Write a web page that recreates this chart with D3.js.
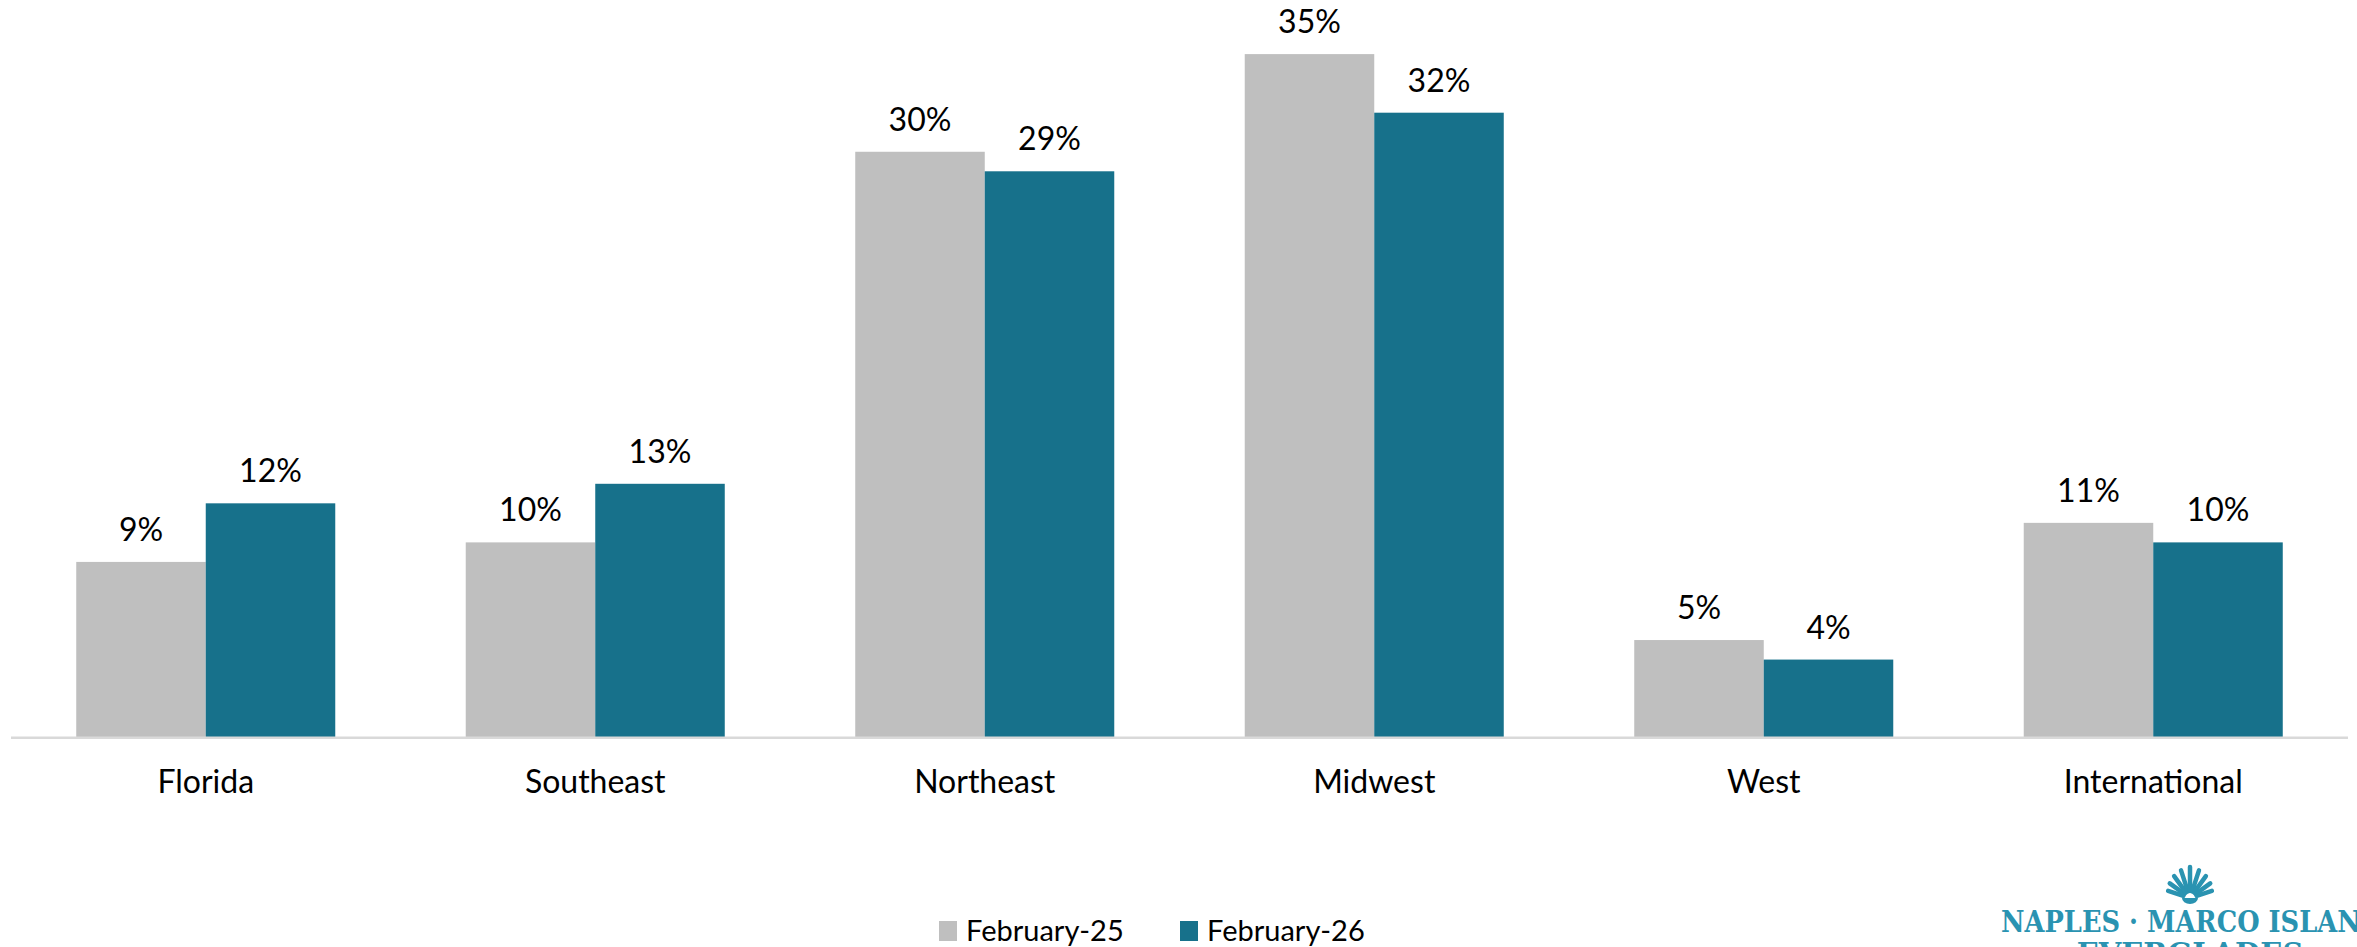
<!DOCTYPE html>
<html>
<head>
<meta charset="utf-8">
<script src="https://cdn.jsdelivr.net/npm/d3@7/dist/d3.min.js"></script>
<style>
  html, body { margin: 0; padding: 0; background: #ffffff; }
  svg { display: block; }
</style>
</head>
<body>
<svg id="chart" width="2357" height="947"></svg>
<script>
const categories = ["Florida", "Southeast", "Northeast", "Midwest", "West", "International"];
const seriesNames = ["February-25", "February-26"];
const feb25 = [9, 10, 30, 35, 5, 11];
const feb26 = [12, 13, 29, 32, 4, 10];
const seriesColors = ["#bfbfbf", "#17718b"];

const W = 2357, H = 947;
const svg = d3.select("#chart");
const FONT = "Lato, 'Open Sans', sans-serif";

const plotLeft = 11, plotRight = 2348, baseY = 737.7;

const x0 = d3.scaleBand().domain(categories).range([plotLeft, plotRight]).paddingInner(0.335).paddingOuter(0.1675);
const x1 = d3.scaleBand().domain(seriesNames).range([0, x0.bandwidth()]).padding(0);
const y = d3.scaleLinear().domain([0, 37.77]).range([baseY, 0]);

const data = categories.map((c, i) => ({ cat: c, vals: [feb25[i], feb26[i]] }));

const groups = svg.append("g").selectAll("g").data(data).join("g")
  .attr("transform", d => `translate(${x0(d.cat)},0)`);

groups.selectAll("rect").data(d => d.vals.map((v, j) => ({ v, s: seriesNames[j], j })))
  .join("rect")
  .attr("x", d => x1(d.s))
  .attr("y", d => y(d.v))
  .attr("width", x1.bandwidth())
  .attr("height", d => baseY - y(d.v))
  .attr("fill", d => seriesColors[d.j]);

groups.selectAll("text").data(d => d.vals.map((v, j) => ({ v, s: seriesNames[j], j })))
  .join("text")
  .attr("x", d => x1(d.s) + x1.bandwidth() / 2)
  .attr("y", d => y(d.v) - 21)
  .attr("text-anchor", "middle")
  .attr("font-family", FONT)
  .attr("font-size", 32)
  .attr("fill", "#000")
  .text(d => d.v + "%");

// x axis
const axis = d3.axisBottom(x0).tickSize(0).tickPadding(0);
const ax = svg.append("g").attr("transform", `translate(0,${baseY})`).call(axis);
ax.select(".domain").attr("stroke", "#d9d9d9").attr("stroke-width", 2.5).attr("d", `M${plotLeft},0H${plotRight}`);
ax.selectAll(".tick text")
  .attr("font-family", FONT)
  .attr("font-size", 32)
  .attr("fill", "#000")
  .attr("dy", 0)
  .attr("y", 793 - baseY);

// legend
const legendX = [939, 1180];
const lg = svg.append("g").selectAll("g").data(seriesNames).join("g")
  .attr("transform", (d, i) => `translate(${legendX[i]},0)`);
lg.append("rect").attr("x", 0).attr("y", 921).attr("width", 18).attr("height", 20)
  .attr("fill", (d, i) => seriesColors[i]);
lg.append("text").attr("x", 27).attr("y", 941)
  .attr("font-family", FONT).attr("font-size", 29).attr("fill", "#000")
  .text(d => d);

// logo
const logo = svg.append("g");
const lc = "#2a93b1";
const cx = 2190, cy = 898;
const rays = [-72, -54, -36, -18, 0, 18, 36, 54, 72];
rays.forEach((a, i) => {
  const len = 31 - Math.abs(a) / 72 * 8;
  const r = a * Math.PI / 180;
  logo.append("line")
    .attr("x1", cx + Math.sin(r) * 7).attr("y1", cy - Math.cos(r) * 7)
    .attr("x2", cx + Math.sin(r) * len).attr("y2", cy - Math.cos(r) * len)
    .attr("stroke", lc).attr("stroke-width", 4.5).attr("stroke-linecap", "round");
});
logo.append("path")
  .attr("d", `M${cx - 8},${cy} A8,6 0 0 0 ${cx + 8},${cy} Z`)
  .attr("fill", lc);
logo.append("text").attr("x", 2001).attr("y", 932)
  .attr("font-family", "'DejaVu Serif', serif").attr("font-weight", "bold")
  .attr("font-size", 29).attr("fill", lc)
  .attr("textLength", 382).attr("lengthAdjust", "spacingAndGlyphs")
  .text("NAPLES · MARCO ISLAND");
logo.append("text").attr("x", 2190).attr("y", 964).attr("text-anchor", "middle")
  .attr("font-family", "'DejaVu Serif', serif").attr("font-weight", "bold")
  .attr("font-size", 29).attr("fill", lc)
  .text("EVERGLADES");
</script>
</body>
</html>
